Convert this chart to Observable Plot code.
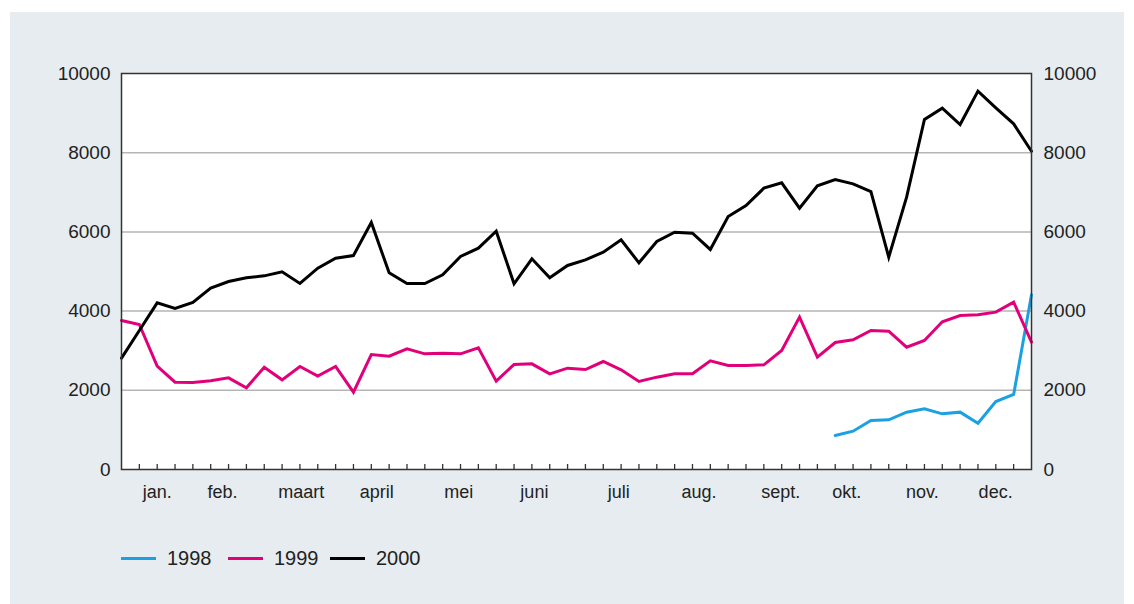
<!DOCTYPE html>
<html><head><meta charset="utf-8">
<script src="https://cdn.jsdelivr.net/npm/d3@7"></script>
<script src="https://cdn.jsdelivr.net/npm/@observablehq/plot@0.6"></script>
<style>
body{margin:0;background:#fff;font-family:"Liberation Sans",Arial,sans-serif;width:1134px;height:604px;overflow:hidden;position:relative;}
#panel{position:absolute;left:10px;top:12px;width:1114px;height:592px;background:#e6ecef;}
#chart{position:absolute;left:0;top:0;}
#legend{position:absolute;top:546px;left:0;width:600px;height:24px;font-size:20px;color:#222;line-height:24px;}
.item{position:absolute;top:0;display:flex;align-items:center;height:24px;}
.sw{width:35px;height:3px;margin-right:11px;}
</style></head>
<body>
<div id="panel"></div>
<div id="chart"></div>
<div id="legend"></div>
<script>
const years = ["1998", "1999", "2000"];
const colors = ["#1ba1e2", "#e2007a", "#000000"];

const v2000 = [2811, 3510, 4209, 4066, 4217, 4579, 4747, 4840, 4890, 4992,
  4697, 5084, 5337, 5404, 6237, 4966, 4697, 4697, 4916, 5379,
  5589, 6018, 4689, 5320, 4840, 5152, 5295, 5488, 5800, 5219,
  5758, 5993, 5968, 5556, 6389, 6667, 7104, 7239, 6599, 7163,
  7323, 7214, 7020, 5362, 6877, 8838, 9125, 8712, 9554, 9133,
  8729, 8038];
const v1999 = [3763, 3662, 2609, 2205, 2197, 2239, 2315, 2062, 2584, 2264,
  2601, 2357, 2601, 1953, 2904, 2862, 3047, 2921, 2938, 2921,
  3072, 2231, 2652, 2668, 2416, 2559, 2525, 2727, 2517, 2222,
  2332, 2416, 2416, 2744, 2626, 2626, 2643, 3005, 3847, 2837,
  3207, 3274, 3510, 3493, 3089, 3258, 3729, 3889, 3906, 3973,
  4226, 3215];
const start1998 = 40;
const v1998 = [859, 968, 1237, 1254, 1448, 1532, 1406, 1448, 1170, 1717, 1894, 4411];

const monthNames = ["jan.", "feb.", "maart", "april", "mei", "juni", "juli", "aug.", "sept.", "okt.", "nov.", "dec."];
const monthPos = [2.0, 5.66, 10.08, 14.3, 18.9, 23.14, 27.87, 32.36, 36.95, 40.64, 44.88, 48.99];
const yTicks = [0, 2000, 4000, 6000, 8000, 10000];
const weekTicks = d3.range(1, 51);
const legendLeft = [121, 228, 330];

const rows = [];
v1998.forEach((v, i) => rows.push({week: start1998 + i, value: v, year: "1998"}));
v1999.forEach((v, i) => rows.push({week: i, value: v, year: "1999"}));
v2000.forEach((v, i) => rows.push({week: i, value: v, year: "2000"}));
const monthRows = monthNames.map((m, i) => ({m, pos: monthPos[i]}));

const font = "'Liberation Sans', Arial, sans-serif";
const chart = Plot.plot({
  width: 1134, height: 520,
  marginLeft: 121, marginRight: 103, marginTop: 73, marginBottom: 51,
  style: {background: "transparent", fontFamily: font, fontSize: "18px", color: "#222", overflow: "visible"},
  x: {domain: [0, 51], axis: null},
  y: {domain: [0, 10000], axis: null},
  color: {domain: years, range: colors},
  marks: [
    Plot.frame({fill: "white", stroke: null}),
    Plot.gridY(yTicks.slice(1, -1), {stroke: "#b5b5b5", strokeOpacity: 1, strokeWidth: 1.5}),
    Plot.line(rows, {x: "week", y: "value", z: "year", stroke: "year", strokeWidth: 3, strokeLinejoin: "miter", strokeMiterlimit: 4}),
    Plot.frame({stroke: "#333", strokeWidth: 1.5}),
    Plot.axisY(yTicks, {anchor: "left", tickSize: 0, tickPadding: 11, label: null, fontSize: 19, fill: "#222", tickFormat: d => String(d)}),
    Plot.axisY(yTicks, {anchor: "right", tickSize: 0, tickPadding: 12, label: null, fontSize: 19, fill: "#222", tickFormat: d => String(d)}),
    Plot.axisX(weekTicks, {anchor: "bottom", tickSize: -5, tickFormat: () => "", label: null, stroke: "#333", strokeWidth: 1.3}),
    Plot.text(monthRows, {x: "pos", text: "m", frameAnchor: "bottom", dy: 28, fontSize: 18, fill: "#222"})
  ]
});
document.getElementById("chart").appendChild(chart);

const legend = document.getElementById("legend");
years.forEach((y, i) => {
  const it = document.createElement("div");
  it.className = "item";
  it.style.left = legendLeft[i] + "px";
  const sw = document.createElement("div");
  sw.className = "sw";
  sw.style.background = colors[i];
  const t = document.createElement("span");
  t.textContent = y;
  it.appendChild(sw); it.appendChild(t);
  legend.appendChild(it);
});
</script>
</body></html>
